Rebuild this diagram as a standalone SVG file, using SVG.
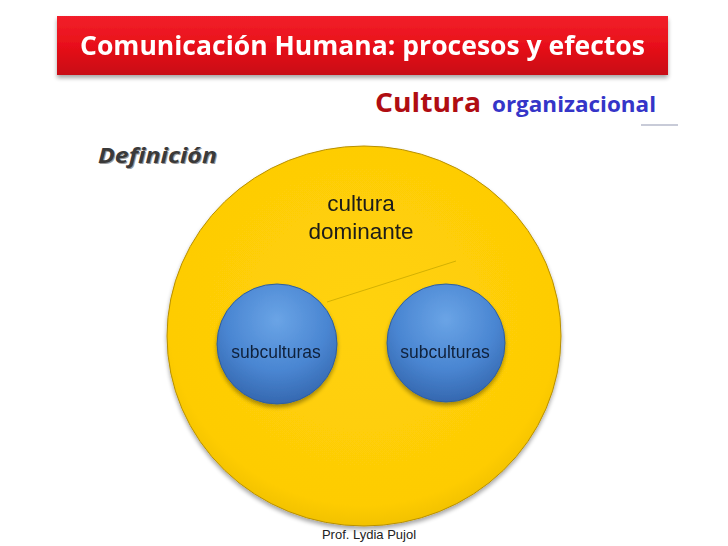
<svg xmlns="http://www.w3.org/2000/svg" width="728" height="546" viewBox="0 0 728 546">
  <defs>
    <linearGradient id="gRed" x1="0" y1="0" x2="0" y2="1">
      <stop offset="0" stop-color="#f2202a"/>
      <stop offset="0.5" stop-color="#e8101a"/>
      <stop offset="1" stop-color="#c80a12"/>
    </linearGradient>
    <radialGradient id="gYellow" cx="0.5" cy="0.45" r="0.55">
      <stop offset="0" stop-color="#ffd20a"/>
      <stop offset="0.9" stop-color="#fecc05"/>
      <stop offset="1" stop-color="#f2c200"/>
    </radialGradient>
    <radialGradient id="gBlue" cx="0.5" cy="0.3" r="0.7">
      <stop offset="0" stop-color="#6aa4e6"/>
      <stop offset="0.6" stop-color="#4a86d2"/>
      <stop offset="1" stop-color="#3568b0"/>
    </radialGradient>
    <filter id="shadow" x="-10%" y="-10%" width="120%" height="125%">
      <feGaussianBlur in="SourceAlpha" stdDeviation="2"/>
      <feOffset dx="0" dy="3" result="b"/>
      <feComponentTransfer><feFuncA type="linear" slope="0.35"/></feComponentTransfer>
      <feMerge><feMergeNode/><feMergeNode in="SourceGraphic"/></feMerge>
    </filter>
  </defs>
  <style>
    .title { font-family: "Open Sans", "Liberation Sans", sans-serif; font-weight: bold; fill: #ffffff; }
    .lbl { font-family: "Liberation Sans", Arial, sans-serif; fill: #1a1a1a; text-anchor: middle; font-size: 22.5px; }
    .sub { font-family: "Liberation Sans", Arial, sans-serif; fill: #10203a; text-anchor: middle; font-size: 17.5px; }
    .blue { fill: url(#gBlue); stroke: #2e5e9e; stroke-width: 1; }
  </style>
  <rect width="728" height="546" fill="#ffffff"/>

  <g id="banner" filter="url(#shadow)">
    <rect x="57" y="16" width="611" height="59" fill="url(#gRed)"/>
    <text class="title" x="80" y="55" font-size="27" textLength="565" lengthAdjust="spacingAndGlyphs">Comunicación Humana: procesos y efectos</text>
  </g>

  <g id="heading">
    <text x="375" y="112" font-family="Open Sans, Liberation Sans, sans-serif" font-weight="bold" font-size="27" fill="#b00d12" textLength="106" lengthAdjust="spacingAndGlyphs">Cultura</text>
    <text x="492" y="112" font-family="Open Sans, Liberation Sans, sans-serif" font-weight="bold" font-size="21" fill="#3535c8" textLength="164" lengthAdjust="spacingAndGlyphs">organizacional</text>
    <line x1="641" y1="125" x2="678" y2="125" stroke="#c8cbd8" stroke-width="2"/>
  </g>

  <g id="definicion">
    <text x="99" y="164" font-family="Open Sans, Liberation Sans, sans-serif" font-weight="bold" font-style="italic" font-size="22" fill="#9a9a9a" textLength="119" lengthAdjust="spacingAndGlyphs">Definición</text>
    <text x="98" y="163" font-family="Open Sans, Liberation Sans, sans-serif" font-weight="bold" font-style="italic" font-size="22" fill="#3a3a3a" textLength="119" lengthAdjust="spacingAndGlyphs">Definición</text>
  </g>

  <g id="cultura-dominante" filter="url(#shadow)">
    <ellipse cx="364" cy="336" rx="197" ry="190" fill="url(#gYellow)" stroke="#b89000" stroke-width="1"/>
    <text class="lbl" x="361" y="211">cultura</text>
    <text class="lbl" x="361" y="239">dominante</text>
  </g>

  <g id="connectors">
    <line x1="327" y1="302" x2="456" y2="261" stroke="#c8a800" stroke-width="0.8"/>
  </g>

  <g id="subcultura-1" filter="url(#shadow)">
    <circle class="blue" cx="277" cy="344" r="60"/>
    <text class="sub" x="276" y="358">subculturas</text>
  </g>

  <g id="subcultura-2" filter="url(#shadow)">
    <circle class="blue" cx="446" cy="343" r="59"/>
    <text class="sub" x="445" y="358">subculturas</text>
  </g>

  <g id="footer">
    <text x="369" y="539" font-family="Liberation Sans, Arial, sans-serif" font-size="13" fill="#222" text-anchor="middle">Prof. Lydia Pujol</text>
  </g>
</svg>
